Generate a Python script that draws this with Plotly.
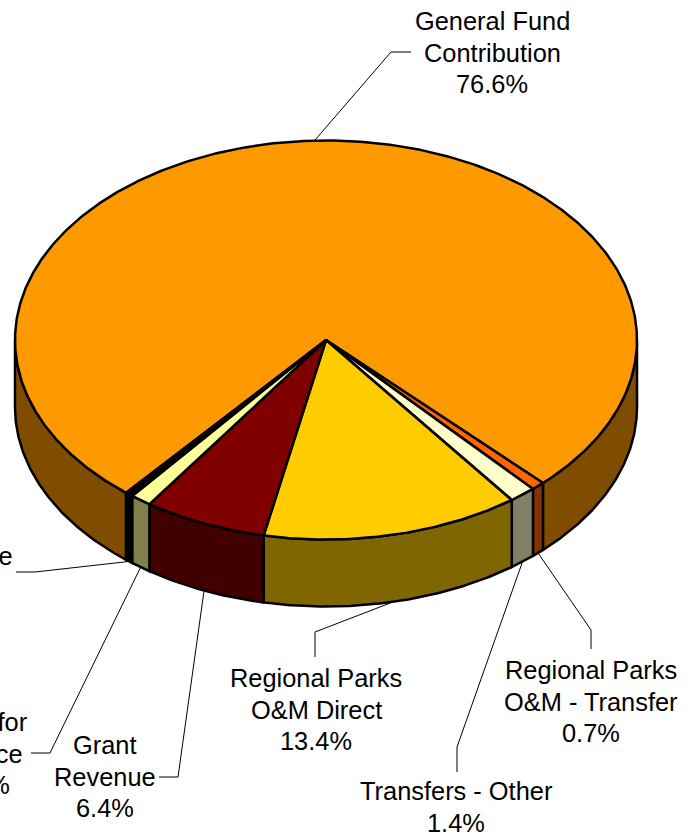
import numpy as np
import plotly.graph_objects as go

# Data, in drawing order clockwise from the first slice
categories = [["General Fund", "Contribution"], ["Regional Parks", "O&M - Transfer"], ["Transfers - Other"],
              ["Regional Parks", "O&M Direct"], ["Grant", "Revenue"], ["Fees for", "Service"], ["Other", "Revenue"]]
values = [76.6, 0.7, 1.4, 13.4, 6.4, 1.1, 0.4]
top_colors = ["#FF9900", "#FF6600", "#FFFFCC", "#FFCC00", "#800000", "#FFFF99", "#000000"]
side_colors = ["#7F4C00", "#803300", "#808066", "#806600", "#400000", "#80804C", "#000000"]

# Layout of the tilted pie, in page pixels
CX, CY, RX, RY, DEPTH = 326, 340, 311, 199.5, 67
FIRST_ANGLE = 130.0
W, H = 692, 834
FONT = "Liberation Sans, Arial, sans-serif"
FONT_SIZE = 25.4
LINE_STEP = 31.5

# Label centre (x, y of the first text line)
label_pos = [(492, 21), (591, 670), (456, 791), (316, 678), (105, 745), (-19.5, 722), (-38, 524)]
# Leader line route after it leaves the pie
leader_routes = [
    [(391, 52), (411, 52)],
    [(591, 630), (591, 649)],
    [(457, 747), (457, 772)],
    [(315, 632), (315, 657)],
    [(178, 777), (159, 777)],
    [(50, 753), (31, 753)],
    [(35, 572), (16, 572)],
]

total = sum(values)
spans = [v / total * 360 for v in values]
starts = FIRST_ANGLE + np.concatenate([[0], np.cumsum(spans)[:-1]])


def rim(a, b, dz=0.0):
    n = max(2, int(abs(b - a) * 2) + 2)
    t = np.radians(np.linspace(a, b, n))
    return CX + RX * np.cos(t), CY + RY * np.sin(t) + dz


fig = go.Figure()


def poly(x, y, fill, width=2.5):
    fig.add_trace(go.Scatter(x=x, y=y, mode="lines", fill="toself", fillcolor=fill,
                             line=dict(color="#000000", width=width), hoverinfo="skip",
                             showlegend=False))


# Visible side wall: angles 0..180 (front half of the ellipse)
for s, sp, col in zip(starts, spans, side_colors):
    for base in (0, 360):
        a, b = max(s, base), min(s + sp, base + 180)
        if a < b:
            x1, y1 = rim(a, b)
            x2, y2 = rim(b, a, DEPTH)
            poly(np.r_[x1, x2, x1[0]], np.r_[y1, y2, y1[0]], col)

# Top faces
for s, sp, col in zip(starts, spans, top_colors):
    x, y = rim(s, s + sp)
    poly(np.r_[CX, x, CX], np.r_[CY, y, CY], col)

# Leader lines and labels
annotations = []
for s, sp, v, name, pos, route in zip(starts, spans, values, categories, label_pos, leader_routes):
    mid = np.radians(s + sp / 2)
    px, py = CX + RX * np.cos(mid), CY + RY * np.sin(mid)
    if np.sin(mid) > 0:
        py += DEPTH
    fig.add_trace(go.Scatter(x=[px] + [p[0] for p in route], y=[py] + [p[1] for p in route],
                             mode="lines", line=dict(color="#000000", width=1),
                             hoverinfo="skip", showlegend=False))
    for i, line in enumerate(name + [f"{v}%"]):
        annotations.append(dict(x=pos[0] / W, y=1 - (pos[1] + i * LINE_STEP) / H,
                                xref="paper", yref="paper", text=line,
                                showarrow=False, align="center", xanchor="center", yanchor="middle",
                                font=dict(family=FONT, size=FONT_SIZE, color="#000000")))

fig.update_layout(
    width=W, height=H, margin=dict(l=0, r=0, t=0, b=0),
    paper_bgcolor="#FFFFFF", plot_bgcolor="#FFFFFF", showlegend=False,
    xaxis=dict(range=[0, W], visible=False, fixedrange=True),
    yaxis=dict(range=[H, 0], visible=False, fixedrange=True),
    annotations=annotations,
)
fig.write_html("out.html", config={"displayModeBar": False},
               post_script="document.body.style.margin='0';document.documentElement.style.overflow='hidden';")
